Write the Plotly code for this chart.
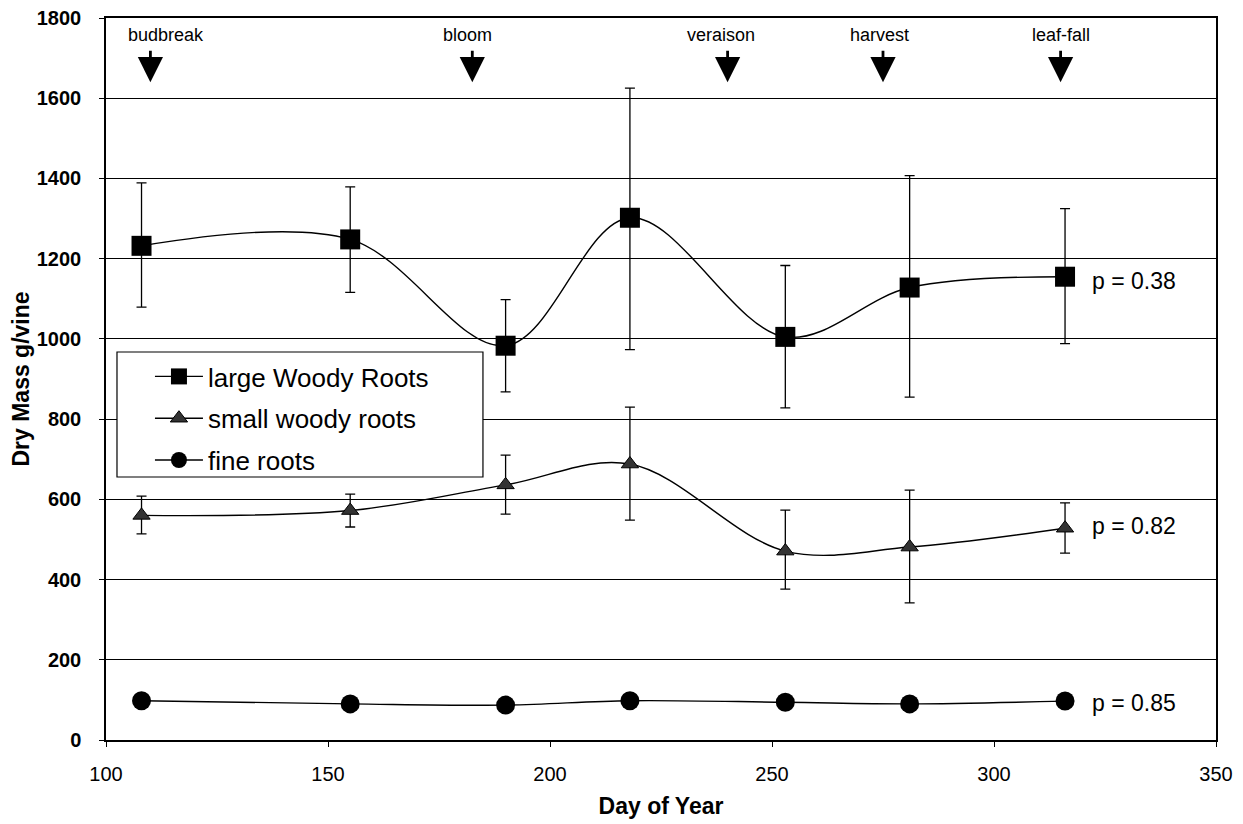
import plotly.graph_objects as go

days = [108, 155, 190, 218, 253, 281, 316]

large_mean = [1232, 1248, 983, 1302, 1005, 1128, 1155]
large_upper = [1389, 1379, 1098, 1625, 1183, 1407, 1325]
large_lower = [1079, 1116, 868, 973, 828, 855, 988]

small_mean = [560, 572, 636, 688, 471, 481, 528]
small_upper = [608, 613, 710, 830, 573, 623, 591]
small_lower = [514, 531, 563, 548, 376, 342, 466]

fine_mean = [98, 90, 87, 98, 94, 90, 97]

series_names = ["large Woody Roots", "small woody roots", "fine roots"]

events = ["budbreak", "bloom", "veraison", "harvest", "leaf-fall"]
event_arrow_days = [110, 182.5, 240, 275, 315]
event_label_days = [113.5, 181.5, 238.5, 274.3, 315]

p_labels = ["p = 0.38", "p = 0.82", "p = 0.85"]
p_label_y = [1145, 533, 92]
p_label_x = 321.7

FONT = "Liberation Sans, Arial, sans-serif"


def err(mean, upper, lower):
    return dict(type="data", symmetric=False,
                array=[u - m for u, m in zip(upper, mean)],
                arrayminus=[m - l for m, l in zip(mean, lower)],
                color="black", thickness=1.3, width=5)


fig = go.Figure()
fig.add_trace(go.Scatter(
    x=days, y=large_mean, name=series_names[0], mode="lines+markers",
    line=dict(color="black", width=1.4, shape="spline", smoothing=1),
    marker=dict(symbol="square", size=20, color="black"),
    error_y=err(large_mean, large_upper, large_lower),
    legendgroup="a"))
fig.add_trace(go.Scatter(
    x=days, y=small_mean, name=series_names[1], mode="lines+markers",
    line=dict(color="black", width=1.4, shape="spline", smoothing=1),
    marker=dict(symbol="triangle-up", size=15, color="#333333",
                line=dict(color="black", width=1)),
    error_y=err(small_mean, small_upper, small_lower),
    legendgroup="b"))
fig.add_trace(go.Scatter(
    x=days, y=fine_mean, name=series_names[2], mode="lines+markers",
    line=dict(color="black", width=1.4, shape="spline", smoothing=1),
    marker=dict(symbol="circle", size=19, color="black"),
    legendgroup="c"))

annotations = []
for name, ax_day, lx in zip(events, event_arrow_days, event_label_days):
    annotations.append(dict(x=ax_day, y=1640, ax=ax_day, ay=1722,
                            xref="x", yref="y", axref="x", ayref="y",
                            text="", showarrow=True, arrowhead=2,
                            arrowsize=1.8, arrowwidth=2.8, arrowcolor="black",
                            standoff=0))
    annotations.append(dict(x=lx, y=1758, xref="x", yref="y", text=name,
                            showarrow=False, font=dict(family=FONT, size=18, color="black")))
for t, py in zip(p_labels, p_label_y):
    annotations.append(dict(x=p_label_x, y=py, xref="x", yref="y", text=t,
                            xanchor="left", showarrow=False,
                            font=dict(family=FONT, size=23, color="black")))

# legend frame
shapes = [dict(type="rect", xref="paper", yref="paper",
               x0=0.0099, x1=0.3396, y0=0.3643, y1=0.5374,
               line=dict(color="black", width=1.2), fillcolor="white",
               layer="above")]

fig.update_layout(
    width=1235, height=816,
    margin=dict(l=98, r=27, t=10, b=84, autoexpand=False),
    plot_bgcolor="white", paper_bgcolor="white",
    font=dict(family=FONT, color="black"),
    showlegend=True,
    legend=dict(x=0.0396, y=0.536, xanchor="left", yanchor="top",
                bgcolor="rgba(0,0,0,0)", borderwidth=0,
                font=dict(family=FONT, size=26, color="black"),
                tracegroupgap=5, itemwidth=48),
    annotations=annotations,
    shapes=shapes,
    xaxis=dict(range=[100, 350], tickvals=[100, 150, 200, 250, 300, 350],
               showgrid=False, showline=True, linecolor="black", linewidth=1.5,
               mirror=True, ticks="outside", ticklen=5, tickcolor="black",
               tickfont=dict(family=FONT, size=20, color="black"),
               ticklabelstandoff=10, ticklabeloverflow="allow", automargin=False,
               title=dict(text="<b>Day of Year</b>", font=dict(family=FONT, size=23),
                          standoff=14),
               zeroline=False),
    yaxis=dict(range=[0, 1800], tickvals=list(range(0, 1801, 200)),
               showgrid=True, gridcolor="black", gridwidth=1,
               showline=True, linecolor="black", linewidth=1.5, mirror=True,
               ticks="outside", ticklen=5, tickcolor="black",
               tickfont=dict(family=FONT, size=20, color="black", weight="bold"),
               ticklabelstandoff=14, ticklabeloverflow="allow", automargin=False,
               title=dict(text="<b>Dry Mass g/vine</b>", font=dict(family=FONT, size=23),
                          standoff=6),
               zeroline=False),
)

fig.write_html("out.html")
